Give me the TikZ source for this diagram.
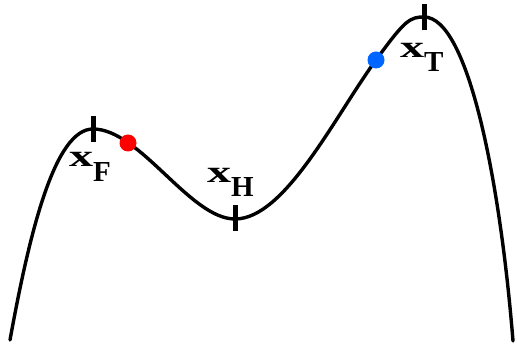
\documentclass[tikz,border=0pt]{standalone}
\usepackage{fontspec}
\setmainfont{Liberation Serif}
\definecolor{dotred}{RGB}{255,0,0}
\definecolor{dotblue}{RGB}{0,102,255}
\newcommand{\bigx}{{\fontsize{31}{32}\selectfont\scalebox{1.55}[1]{x}}}
\begin{document}
\begin{tikzpicture}[x=1pt,y=-1pt,
  curveline/.style={line width=3.4pt,line cap=round,line join=round},
  tickmark/.style={line width=5pt},
  lbl/.style={inner sep=0pt,outer sep=0pt,anchor=base west,font=\fontsize{29}{30}\selectfont\bfseries},
  dotmark/.style={circle,inner sep=0pt,minimum size=17pt}]
\useasboundingbox (0,0) rectangle (517,344);
\coordinate (s) at (10,340);
\coordinate (F) at (93,129);
\coordinate (H) at (235,219);
\coordinate (R) at (376,60);
\coordinate (T) at (424,17);
\coordinate (e) at (513,341);
\draw[curveline] (s) .. controls (30,230) and (55,129) .. (F)
  .. controls (140,129) and (190,219) .. (H)
  .. controls (285,219) and (335,116) .. (R)
  .. controls (405,20) and (410,17) .. (T)
  .. controls (468,17) and (500,180) .. (e);
\draw[tickmark] ([yshift=-13pt]F) -- ([yshift=13pt]F);
\draw[tickmark] ([yshift=-12pt]H) -- ([yshift=14pt]H);
\draw[tickmark] ([yshift=-13pt]T) -- ([yshift=13pt]T);
\node[dotmark,fill=dotred] (rd) at (128,143) {};
\node[dotmark,fill=dotblue] (bd) at (376,60) {};
\node[lbl] (lF) at (69,167) {\bigx\raisebox{-15pt}{F}};
\node[lbl] (lH) at (207,183) {\bigx\raisebox{-14pt}{H}};
\node[lbl] (lT) at (400,58) {\bigx\raisebox{-14pt}{T}};
\end{tikzpicture}
\end{document}
